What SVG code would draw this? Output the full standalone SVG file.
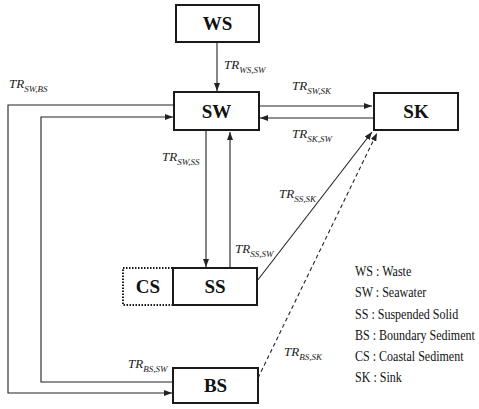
<svg xmlns="http://www.w3.org/2000/svg" width="479" height="409" viewBox="0 0 479 409">
<style>
.box{fill:#fff;stroke:#1a1a1a;stroke-width:2}
.dot{fill:#fff;stroke:#1a1a1a;stroke-width:2;stroke-dasharray:1.5 1.5}
.nl{font-family:"Liberation Serif",serif;font-weight:bold;font-size:19px;fill:#111;text-anchor:middle}
.c{fill:none;stroke:#222;stroke-width:1.1}
.tr{font-family:"Liberation Serif",serif;font-style:italic;font-size:13px;fill:#222}
.sb{font-size:9px}
.lg{font-family:"Liberation Serif",serif;font-size:14.5px;fill:#111}
</style>
<defs>
<marker id="ah" markerUnits="userSpaceOnUse" markerWidth="8" markerHeight="6" refX="8" refY="3" orient="auto">
<path d="M0,0 L8,3 L0,6 z" fill="#222"/>
</marker>
</defs>
<rect width="479" height="409" fill="#fff"/>
<g id="connectors">
<path class="c" d="M217,42 V91" marker-end="url(#ah)"/>
<path class="c" d="M259,106 H372" marker-end="url(#ah)"/>
<path class="c" d="M373,118 H260" marker-end="url(#ah)"/>
<path class="c" d="M174,105 H8 V393 H172" marker-end="url(#ah)"/>
<path class="c" d="M173,382 H41 V117 H173" marker-end="url(#ah)"/>
<path class="c" d="M206,131 V267" marker-end="url(#ah)"/>
<path class="c" d="M230,268 V132" marker-end="url(#ah)"/>
<path class="c" d="M257,281 L372,132" marker-end="url(#ah)"/>
<path class="c" d="M258,378 L377,133" stroke-dasharray="4 3" marker-end="url(#ah)"/>
</g>
<g id="WS"><rect class="box" x="176" y="5" width="83" height="37"/><text class="nl" x="217.5" y="30">WS</text></g>
<g id="SW"><rect class="box" x="174" y="92" width="85" height="38"/><text class="nl" x="216.5" y="118">SW</text></g>
<g id="SK"><rect class="box" x="374" y="93" width="84" height="37"/><text class="nl" x="416" y="118">SK</text></g>
<g id="CS"><rect class="dot" x="123" y="268" width="50" height="37"/><text class="nl" x="148" y="293">CS</text></g>
<g id="SS"><rect class="box" x="173" y="268" width="84" height="37"/><text class="nl" x="215" y="293">SS</text></g>
<g id="BS"><rect class="box" x="173" y="368" width="85" height="35"/><text class="nl" x="215.5" y="392">BS</text></g>
<g id="labels">
<text class="tr" x="224" y="69">TR<tspan class="sb" dy="4">WS,SW</tspan></text>
<text class="tr" x="9" y="88">TR<tspan class="sb" dy="4">SW,BS</tspan></text>
<text class="tr" x="292" y="90">TR<tspan class="sb" dy="4">SW,SK</tspan></text>
<text class="tr" x="292" y="138">TR<tspan class="sb" dy="4">SK,SW</tspan></text>
<text class="tr" x="162" y="161">TR<tspan class="sb" dy="4">SW,SS</tspan></text>
<text class="tr" x="279" y="198">TR<tspan class="sb" dy="4">SS,SK</tspan></text>
<text class="tr" x="235" y="253">TR<tspan class="sb" dy="4">SS,SW</tspan></text>
<text class="tr" x="284" y="356">TR<tspan class="sb" dy="4">BS,SK</tspan></text>
<text class="tr" x="128" y="368">TR<tspan class="sb" dy="4">BS,SW</tspan></text>
</g>
<g id="legend" transform="translate(355,0) scale(0.83,1)">
<text class="lg" x="0" y="276">WS : Waste</text>
<text class="lg" x="0" y="297">SW : Seawater</text>
<text class="lg" x="0" y="319">SS : Suspended Solid</text>
<text class="lg" x="0" y="340">BS : Boundary Sediment</text>
<text class="lg" x="0" y="361">CS : Coastal Sediment</text>
<text class="lg" x="0" y="382">SK : Sink</text>
</g>
</svg>
